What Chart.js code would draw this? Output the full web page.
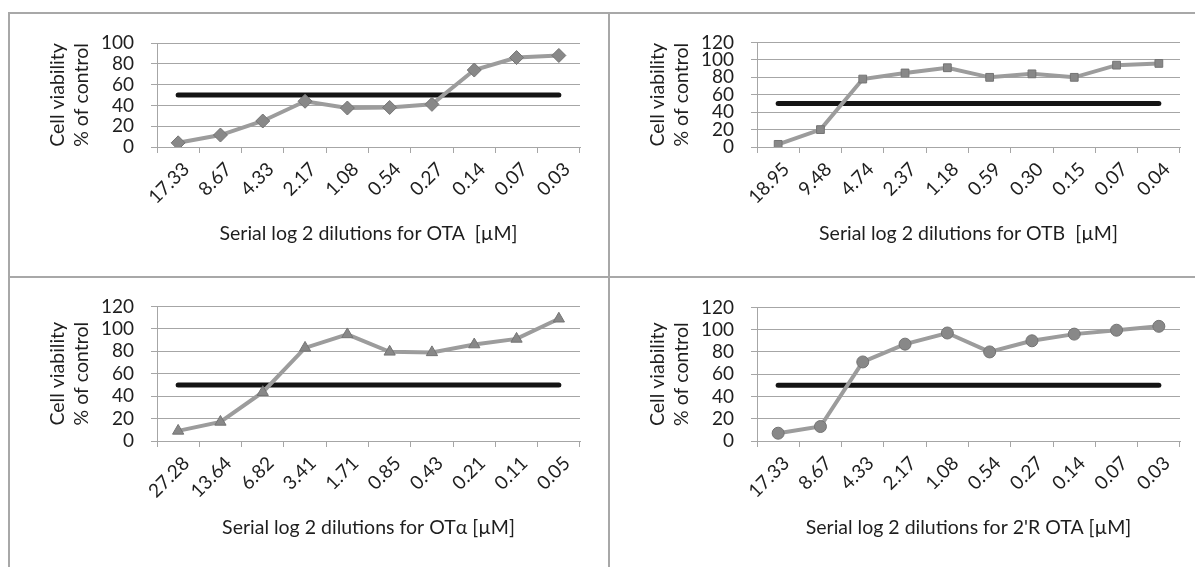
<!DOCTYPE html>
<html>
<head>
<meta charset="utf-8">
<script src="https://cdn.jsdelivr.net/npm/chart.js@4/dist/chart.umd.min.js"></script>
<style>
  body { margin: 0; background: #fff; width: 1195px; height: 567px; overflow: hidden; position: relative; }
  canvas { position: absolute; }
  .rule { position: absolute; background: #a8a8a8; }
</style>
</head>
<body>
<div class="rule" style="left:8px; top:12px; width:1187px; height:2px;"></div>
<div class="rule" style="left:8px; top:12px; width:2px; height:555px;"></div>
<div class="rule" style="left:608px; top:12px; width:2px; height:555px;"></div>
<div class="rule" style="left:8px; top:276px; width:1187px; height:2px;"></div>

<canvas id="chart-ota" width="598" height="262" style="left:10px; top:14px;"></canvas>
<canvas id="chart-otb" width="585" height="263" style="left:610px; top:14px;"></canvas>
<canvas id="chart-otalpha" width="598" height="289" style="left:10px; top:278px;"></canvas>
<canvas id="chart-rota" width="585" height="288" style="left:610px; top:279px;"></canvas>

<script>
// dilution labels (µM) and cell viability (% of control)
const otaLabels = ["17.33", "8.67", "4.33", "2.17", "1.08", "0.54", "0.27", "0.14", "0.07", "0.03"];
const otaValues = [4, 11.5, 25, 44, 37.5, 38, 41, 74, 86, 88];

const otbLabels = ["18.95", "9.48", "4.74", "2.37", "1.18", "0.59", "0.30", "0.15", "0.07", "0.04"];
const otbValues = [3, 20, 78, 85, 91, 80, 84, 80, 94, 96];

const otAlphaLabels = ["27.28", "13.64", "6.82", "3.41", "1.71", "0.85", "0.43", "0.21", "0.11", "0.05"];
const otAlphaValues = [9, 17, 43.5, 83, 95, 79.5, 79, 86, 91, 109];

const rOtaLabels = ["17.33", "8.67", "4.33", "2.17", "1.08", "0.54", "0.27", "0.14", "0.07", "0.03"];
const rOtaValues = [7, 13, 71, 87, 97, 80, 90, 96, 99.5, 103];

const threshold = 50;

const gridGray = "#a6a6a6";
const textColor = "#1e1e1e";
const fontFamily = "Lato, 'Open Sans', sans-serif";

function buildChart(id, labels, values, marker, yMax, xTitle, box) {
  const ctx = document.getElementById(id).getContext("2d");
  return new Chart(ctx, {
    type: "line",
    data: {
      labels: labels,
      datasets: [
        {
          data: values,
          borderColor: "#9c9c9c",
          borderWidth: 4,
          pointStyle: marker.style,
          pointRadius: marker.radius,
          pointBackgroundColor: "#888888",
          pointBorderColor: "#747474",
          pointBorderWidth: 1,
          tension: 0
        },
        {
          data: labels.map(() => threshold),
          borderColor: "#141414",
          borderWidth: 5,
          borderCapStyle: "round",
          pointRadius: 0
        }
      ]
    },
    options: {
      responsive: false,
      animation: false,
      events: [],
      layout: { padding: { top: box.top, right: box.right, left: 0, bottom: 0 } },
      plugins: { legend: { display: false }, tooltip: { enabled: false } },
      scales: {
        x: {
          offset: true,
          grid: { offset: true, drawOnChartArea: false, tickLength: 6, color: gridGray },
          border: { color: gridGray },
          ticks: {
            minRotation: 45, maxRotation: 45, padding: 5, labelOffset: 8,
            autoSkip: false, color: textColor,
            font: { family: fontFamily, size: 19 }
          },
          title: {
            display: true, text: xTitle, color: textColor,
            font: { family: fontFamily, size: 19.5, lineHeight: 1.2 },
            padding: { top: 0, bottom: box.titleBottom }
          },
          afterFit: (scale) => { scale.height = box.xHeight; }
        },
        y: {
          min: 0,
          max: yMax,
          ticks: {
            stepSize: 20, padding: 17, autoSkip: false, color: textColor,
            font: { family: fontFamily, size: 19 }
          },
          grid: { color: gridGray, tickLength: 6 },
          border: { color: gridGray },
          title: {
            display: true, text: ["Cell viability", "% of control"], color: textColor,
            font: { family: fontFamily, size: 19.5, lineHeight: 1.23 },
            padding: { top: 36, bottom: 0 }
          },
          afterFit: (scale) => { scale.width = box.left; }
        }
      }
    }
  });
}

buildChart("chart-ota", otaLabels, otaValues, { style: "rectRot", radius: 7 }, 100,
  "Serial log 2 dilutions for OTA  [µM]",
  { top: 29, right: 28, left: 147, xHeight: 129, titleBottom: 31 });

buildChart("chart-otb", otbLabels, otbValues, { style: "rect", radius: 5.5 }, 120,
  "Serial log 2 dilutions for OTB  [µM]",
  { top: 28.5, right: 15, left: 147, xHeight: 130, titleBottom: 32 });

buildChart("chart-otalpha", otAlphaLabels, otAlphaValues, { style: "triangle", radius: 6.5 }, 120,
  "Serial log 2 dilutions for OTα [µM]",
  { top: 27, right: 28, left: 147, xHeight: 126, titleBottom: 28 });

buildChart("chart-rota", rOtaLabels, rOtaValues, { style: "circle", radius: 6 }, 120,
  "Serial log 2 dilutions for 2'R OTA [µM]",
  { top: 27, right: 15, left: 147, xHeight: 126, titleBottom: 28 });
</script>
</body>
</html>
